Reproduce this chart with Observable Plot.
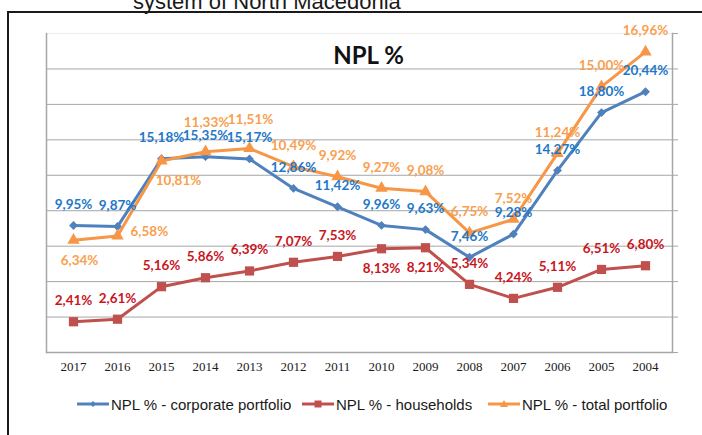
<!DOCTYPE html>
<html><head><meta charset="utf-8">
<script src="https://cdn.jsdelivr.net/npm/d3@7"></script>
<script src="https://cdn.jsdelivr.net/npm/@observablehq/plot@0.6"></script>
<style>
html,body{margin:0;padding:0;background:#fff;}
#wrap{position:relative;width:702px;height:435px;overflow:hidden;background:#fff;}
#wrap svg.layer{position:absolute;left:0;top:0;}
#box{position:absolute;left:7px;top:11px;width:720px;height:460px;border:2px solid #1a1a1a;box-sizing:border-box;}
#doctitle{position:absolute;left:133px;top:-9px;font:22px/22px "Liberation Sans",Arial,sans-serif;color:#1a1a1a;white-space:nowrap;}
.leg{position:absolute;top:395px;height:18px;display:flex;align-items:center;font:15px "Liberation Sans",Arial,sans-serif;color:#1a1a1a;white-space:nowrap;}
.leg svg{margin-right:2px;}
</style></head><body>
<div id="wrap"><div id="box"></div><div id="doctitle">system of North Macedonia</div></div>
<script>
// ---- data ----
const years = ["2017","2016","2015","2014","2013","2012","2011","2010","2009","2008","2007","2006","2005","2004"];
const corporate = [9.95, 9.87, 15.18, 15.35, 15.17, 12.86, 11.42, 9.96, 9.63, 7.46, 9.28, 14.27, 18.80, 20.44];
const households = [2.41, 2.61, 5.16, 5.86, 6.39, 7.07, 7.53, 8.13, 8.21, 5.34, 4.24, 5.11, 6.51, 6.80];
const total = [6.34, 6.58, 10.81, 11.33, 11.51, 10.49, 9.92, 9.27, 9.08, 6.75, 7.52, 11.24, 15.00, 16.96];
const primaryDomain = [0, 25];     // corporate & households axis (hidden)
const secondaryDomain = [0, 18];   // total portfolio axis (hidden), gridlines
const secondaryTicks = [0, 2, 4, 6, 8, 10, 12, 14, 16, 18];
const chartTitle = "NPL %";
const seriesNames = ["NPL % - corporate portfolio", "NPL % - households", "NPL % - total portfolio"];

const rows = years.map((year, i) => ({year, corporate: corporate[i], households: households[i], total: total[i]}));

// ---- styling ----
const C = {
  corpLine: "#4F81BD", hhLine: "#C0504D", totLine: "#F79646",
  corpText: "#1E78C8", hhText: "#C8161E", totText: "#F9A050", grid: "#a6a6a6"
};
const labelFont = {fontFamily: "Lato, 'Liberation Sans', sans-serif", fontWeight: "bold", fontSize: 13.5};
const fmt = v => d3.format(".2f")(v).replace(".", ",") + "%";

const common = {
  width: 702, height: 380, marginTop: 33, marginBottom: 28, marginLeft: 46, marginRight: 30,
  style: {background: "transparent", overflow: "visible"},
  className: "layer"
};
const xScale = {type: "point", domain: years, padding: 0.5};

// label placement (offsets)
const offsets = {
  above: {dx: 0, dy: -21}, aboveHigh: {dx: 1, dy: -29}, below: {dx: 0, dy: 20},
  belowShift: {dx: 6, dy: 21}, right: {dx: 13, dy: -4, textAnchor: "start"}, belowRight: {dx: 17, dy: 20}
};
const placement = {
  corporate: {},
  households: {"2010": "below", "2009": "below"},
  total: {"2017": "belowShift", "2016": "right", "2015": "belowRight", "2014": "aboveHigh", "2013": "aboveHigh"}
};
function labelMarks(key, color) {
  const groups = d3.group(rows, d => placement[key][d.year] || "above");
  return Array.from(groups, ([pos, data]) => Plot.text(data, {
    x: "year", y: key, text: d => fmt(d[key]), fill: color, ...labelFont,
    dx: offsets[pos].dx, dy: offsets[pos].dy, textAnchor: offsets[pos].textAnchor || "middle"
  }));
}

const wrap = document.getElementById("wrap");

// Layer A: grid, frame, x axis, title (secondary scale)
wrap.appendChild(Plot.plot({
  ...common,
  x: xScale,
  y: {domain: secondaryDomain},
  marks: [
    Plot.ruleY(secondaryTicks.filter(v => v > 0 && v < 18), {stroke: C.grid, strokeWidth: 1}),
    Plot.ruleY([18], {stroke: "#ececec", strokeWidth: 1}),
    Plot.axisY({anchor: "right", ticks: secondaryTicks, tickSize: 5, tickFormat: () => "", stroke: C.grid, label: null}),
    Plot.frame({anchor: "left", stroke: C.grid, strokeWidth: 1.5}),
    Plot.frame({anchor: "right", stroke: C.grid, strokeWidth: 1.5}),
    Plot.ruleY([0], {stroke: C.grid, strokeWidth: 1.5}),
    Plot.axisX({tickSize: 0, tickPadding: 9, fontFamily: "'Liberation Serif','Times New Roman',serif", fontSize: 13, fill: "#1a1a1a", label: null}),
    Plot.text([chartTitle], {frameAnchor: "top", dx: 9, dy: 13, fontFamily: "Lato, 'Liberation Sans', sans-serif", fontWeight: "bold", fontSize: 24, fill: "#111"})
  ]
}));

// Layer B: corporate & households lines (primary scale)
wrap.appendChild(Plot.plot({
  ...common,
  x: {...xScale, axis: null},
  y: {domain: primaryDomain, axis: null},
  marks: [
    Plot.line(rows, {x: "year", y: "households", stroke: C.hhLine, strokeWidth: 3}),
    Plot.dot(rows, {x: "year", y: "households", symbol: "square", r: 5.2, fill: C.hhLine}),
    Plot.line(rows, {x: "year", y: "corporate", stroke: C.corpLine, strokeWidth: 3}),
    Plot.dot(rows, {x: "year", y: "corporate", symbol: "diamond2", r: 4, fill: C.corpLine})
  ]
}));

// Layer C: total portfolio (secondary scale)
wrap.appendChild(Plot.plot({
  ...common,
  x: {...xScale, axis: null},
  y: {domain: secondaryDomain, axis: null},
  marks: [
    Plot.line(rows, {x: "year", y: "total", stroke: C.totLine, strokeWidth: 3}),
    Plot.dot(rows, {x: "year", y: "total", symbol: "triangle", r: 4.6, fill: C.totLine}),
    ...labelMarks("total", C.totText)
  ]
}));

// Layer D: labels for corporate & households (primary scale)
wrap.appendChild(Plot.plot({
  ...common,
  x: {...xScale, axis: null},
  y: {domain: primaryDomain, axis: null},
  marks: [
    ...labelMarks("households", C.hhText),
    ...labelMarks("corporate", C.corpText)
  ]
}));

// Legend
const legendItems = [
  {name: seriesNames[0], color: C.corpLine, shape: "diamond", left: 77},
  {name: seriesNames[1], color: C.hhLine, shape: "square", left: 302},
  {name: seriesNames[2], color: C.totLine, shape: "triangle", left: 488}
];
legendItems.forEach(it => {
  const div = document.createElement("div");
  div.className = "leg";
  div.style.left = it.left + "px";
  let marker = "";
  if (it.shape === "diamond") marker = `<path d="M16,3 L19,6 L16,9 L13,6 Z" fill="${it.color}"/>`;
  if (it.shape === "square") marker = `<rect x="12.5" y="2.5" width="7" height="7" fill="${it.color}"/>`;
  if (it.shape === "triangle") marker = `<path d="M16,2 L20,9 L12,9 Z" fill="${it.color}"/>`;
  div.innerHTML = `<svg width="32" height="12"><line x1="0" y1="6" x2="32" y2="6" stroke="${it.color}" stroke-width="3"/>${marker}</svg><span>${it.name}</span>`;
  wrap.appendChild(div);
});
</script>
</body></html>
